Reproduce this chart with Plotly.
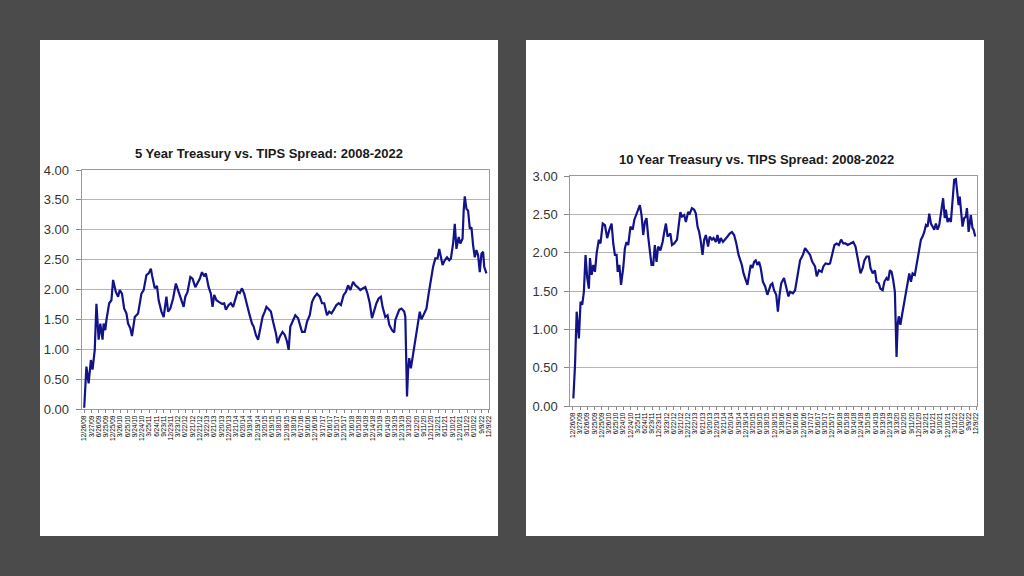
import plotly.graph_objects as go

# Datos: semana desde 12/26/08 y spread (%)
semanas_5a = [0, 4, 8, 12, 15, 19, 22, 26, 29, 33, 35, 38, 40, 45, 49, 52, 57, 61, 64, 68,
              72, 76, 79, 83, 86, 91, 97, 103, 107, 112, 116, 120, 122, 127, 131, 134, 139, 143, 148, 151,
              155, 160, 165, 170, 174, 179, 182, 186, 191, 195, 200, 204, 208, 212, 216, 219, 224, 228, 231, 234,
              238, 243, 248, 252, 255, 260, 264, 268, 272, 276, 280, 284, 288, 292, 297, 302, 305, 309, 313, 317,
              321, 325, 328, 333, 336, 340, 345, 348, 352, 357, 361, 365, 368, 371, 376, 380, 385, 388, 392, 397,
              401, 406, 410, 414, 419, 424, 428, 432, 437, 441, 445, 449, 454, 458, 462, 467, 471, 475, 479, 484,
              488, 492, 497, 502, 506, 510, 514, 518, 521, 526, 530, 534, 537, 542, 546, 549, 554, 558, 560, 564,
              567, 571, 576, 578, 581, 583, 585, 588, 592, 597, 601, 604, 607, 611, 616, 620, 624, 628, 632, 636,
              639, 642, 645, 649, 653, 657, 660, 664, 667, 670, 674, 677, 681, 683, 685, 688, 691, 694, 697, 700,
              703, 706, 709, 712, 715, 718, 720, 724]
spread_5a = [0.02, 0.71, 0.43, 0.82, 0.66, 0.99, 1.76, 1.16, 1.43, 1.16, 1.43, 1.32, 1.49, 1.77, 1.82, 2.16, 1.96, 1.88, 1.99, 1.93,
             1.68, 1.60, 1.43, 1.35, 1.22, 1.54, 1.60, 1.93, 1.99, 2.24, 2.27, 2.35, 2.24, 2.02, 2.06, 1.82, 1.63, 1.54, 1.88, 1.63,
             1.68, 1.85, 2.10, 1.96, 1.82, 1.71, 1.88, 1.96, 2.21, 2.18, 2.04, 2.10, 2.18, 2.29, 2.22, 2.27, 2.04, 1.93, 1.71, 1.91,
             1.82, 1.79, 1.76, 1.77, 1.66, 1.74, 1.77, 1.71, 1.82, 1.96, 1.94, 2.02, 1.93, 1.77, 1.60, 1.43, 1.38, 1.24, 1.16, 1.35,
             1.54, 1.63, 1.71, 1.66, 1.63, 1.46, 1.27, 1.10, 1.21, 1.29, 1.24, 1.13, 0.99, 1.38, 1.49, 1.57, 1.52, 1.43, 1.29, 1.29,
             1.46, 1.57, 1.79, 1.87, 1.93, 1.88, 1.77, 1.77, 1.57, 1.63, 1.60, 1.66, 1.74, 1.77, 1.74, 1.91, 1.96, 2.07, 1.99, 2.13,
             2.07, 2.04, 1.99, 2.02, 2.04, 1.93, 1.77, 1.52, 1.63, 1.77, 1.85, 1.88, 1.71, 1.54, 1.57, 1.41, 1.32, 1.28, 1.49, 1.57,
             1.66, 1.68, 1.63, 1.54, 0.21, 0.66, 0.85, 0.68, 0.93, 1.27, 1.49, 1.63, 1.50, 1.57, 1.68, 1.93, 2.16, 2.38, 2.52, 2.52,
             2.68, 2.54, 2.41, 2.49, 2.54, 2.49, 2.52, 2.77, 3.10, 2.68, 2.88, 2.77, 2.85, 3.32, 3.56, 3.35, 3.32, 3.02, 3.04, 2.74,
             2.54, 2.66, 2.57, 2.29, 2.60, 2.63, 2.38, 2.27]

semanas_10a = [1, 4, 7, 10, 11, 14, 17, 20, 23, 26, 29, 31, 34, 37, 40, 43, 47, 50, 54, 58,
               62, 66, 70, 73, 76, 79, 81, 84, 87, 91, 94, 97, 100, 104, 108, 111, 114, 118, 121, 124,
               127, 130, 133, 136, 139, 142, 145, 148, 151, 154, 158, 162, 165, 168, 171, 176, 179, 183, 188, 191,
               194, 197, 201, 204, 208, 211, 215, 219, 222, 225, 228, 231, 234, 237, 240, 244, 247, 251, 254, 258,
               261, 264, 267, 271, 275, 279, 283, 287, 291, 295, 299, 302, 305, 308, 312, 315, 318, 321, 324, 327,
               330, 333, 336, 339, 343, 347, 351, 354, 357, 360, 363, 367, 370, 373, 376, 381, 385, 389, 392, 397,
               401, 406, 410, 415, 419, 424, 428, 432, 437, 440, 444, 449, 452, 456, 461, 464, 468, 472, 476, 480,
               484, 488, 492, 496, 501, 506, 510, 514, 519, 523, 526, 530, 534, 537, 541, 545, 548, 552, 555, 559,
               562, 566, 569, 572, 575, 578, 581, 584, 586, 588, 591, 594, 598, 601, 605, 607, 610, 613, 617, 621,
               624, 628, 631, 634, 637, 640, 643, 646, 649, 652, 655, 658, 661, 665, 668, 671, 673, 676, 679, 682,
               685, 688, 691, 693, 696, 698, 701, 703, 706, 709, 711, 714, 716, 718, 721, 723, 726]
spread_10a = [0.10, 0.53, 1.23, 1.01, 0.88, 1.36, 1.32, 1.49, 1.97, 1.67, 1.53, 1.93, 1.71, 1.84, 1.75, 1.99, 2.17, 2.12, 2.38, 2.36,
              2.19, 2.30, 2.38, 2.12, 1.97, 1.97, 1.75, 1.84, 1.58, 1.80, 2.06, 2.14, 2.10, 2.34, 2.30, 2.43, 2.49, 2.58, 2.62, 2.49,
              2.23, 2.40, 2.45, 2.21, 2.03, 1.84, 1.84, 2.10, 1.88, 2.08, 2.03, 2.14, 2.27, 2.38, 2.21, 2.25, 2.10, 2.12, 2.17, 2.32,
              2.53, 2.47, 2.49, 2.40, 2.53, 2.51, 2.58, 2.56, 2.51, 2.34, 2.27, 2.14, 1.97, 2.17, 2.23, 2.08, 2.21, 2.17, 2.19, 2.14,
              2.23, 2.12, 2.19, 2.14, 2.17, 2.21, 2.25, 2.27, 2.23, 2.12, 1.97, 1.90, 1.84, 1.73, 1.64, 1.58, 1.71, 1.84, 1.80, 1.88,
              1.90, 1.84, 1.88, 1.80, 1.62, 1.56, 1.45, 1.53, 1.58, 1.60, 1.51, 1.45, 1.23, 1.45, 1.60, 1.67, 1.53, 1.43, 1.49, 1.47,
              1.51, 1.71, 1.90, 1.97, 2.06, 2.01, 1.97, 1.88, 1.82, 1.69, 1.77, 1.75, 1.82, 1.86, 1.85, 1.86, 1.97, 2.10, 2.12, 2.10,
              2.17, 2.12, 2.12, 2.10, 2.12, 2.14, 2.08, 1.93, 1.73, 1.80, 1.90, 1.95, 1.95, 1.80, 1.73, 1.77, 1.62, 1.60, 1.53, 1.51,
              1.62, 1.67, 1.64, 1.77, 1.75, 1.64, 1.49, 0.64, 1.06, 1.17, 1.06, 1.19, 1.36, 1.49, 1.67, 1.73, 1.62, 1.73, 1.71, 1.88,
              2.03, 2.17, 2.21, 2.27, 2.36, 2.34, 2.51, 2.38, 2.34, 2.30, 2.38, 2.30, 2.36, 2.58, 2.71, 2.45, 2.56, 2.40, 2.45, 2.40,
              2.75, 2.95, 2.96, 2.80, 2.62, 2.73, 2.53, 2.34, 2.45, 2.47, 2.58, 2.27, 2.38, 2.49, 2.32, 2.30, 2.21]

etiquetas_fecha = [
    "12/26/08", "3/27/09", "6/26/09", "9/25/09", "12/25/09", "3/26/10", "6/25/10", "9/24/10",
    "12/24/10", "3/25/11", "6/24/11", "9/23/11", "12/23/11", "3/23/12", "6/22/12", "9/21/12",
    "12/21/12", "3/22/13", "6/21/13", "9/20/13", "12/20/13", "3/21/14", "6/20/14", "9/19/14",
    "12/19/14", "3/20/15", "6/19/15", "9/18/15", "12/18/15", "3/18/16", "6/17/16", "9/16/16",
    "12/16/16", "3/17/17", "6/16/17", "9/15/17", "12/15/17", "3/16/18", "6/15/18", "9/14/18",
    "12/14/18", "3/15/19", "6/14/19", "9/13/19", "12/13/19", "3/13/20", "6/12/20", "9/11/20",
    "12/11/20", "3/12/21", "6/11/21", "9/10/21", "12/10/21", "3/11/22", "6/10/22", "9/9/22",
    "12/9/22",
]
ticks_y_5a = [0, 0.5, 1, 1.5, 2, 2.5, 3, 3.5, 4]
ticks_y_10a = [0, 0.5, 1, 1.5, 2, 2.5, 3]

titulo_5a = "5 Year Treasury vs. TIPS Spread: 2008-2022"
titulo_10a = "10 Year Treasury vs. TIPS Spread: 2008-2022"

W, H = 1024, 576
FUENTE = "Liberation Sans, Arial, sans-serif"
AZUL = "#12128a"
FONDO = "#4b4b4b"


def px_x(x):
    return x / W


def px_y(y):
    return 1 - y / H


fig = go.Figure()
fig.add_trace(go.Scatter(x=semanas_5a, y=spread_5a, mode="lines", xaxis="x", yaxis="y",
                         line=dict(color=AZUL, width=2.2), showlegend=False))
fig.add_trace(go.Scatter(x=semanas_10a, y=spread_10a, mode="lines", xaxis="x2", yaxis="y2",
                         line=dict(color=AZUL, width=2.2), showlegend=False))

tickvals_x = [13 * i for i in range(len(etiquetas_fecha))]
eje_x = dict(
    range=[-4.5, 728.6], tickmode="array", tickvals=tickvals_x, ticktext=etiquetas_fecha,
    tickangle=-90, tickfont=dict(family=FUENTE, size=6.5, color="#000000"),
    ticks="outside", ticklen=3, tickcolor="#888888", showgrid=False, zeroline=False,
    showline=True, linecolor="#9a9a9a", linewidth=1, mirror=True, fixedrange=True,
    automargin=False,
)
eje_y = dict(
    tickformat=".2f", tickfont=dict(family=FUENTE, size=13, color="#333333"),
    ticks="outside", ticklen=5, tickcolor="#888888", ticklabelstandoff=4,
    showgrid=True, gridcolor="#b4b4b4", gridwidth=1.2, zeroline=False,
    showline=True, linecolor="#9a9a9a", linewidth=1, mirror=True, fixedrange=True,
    automargin=False,
)

fig.update_layout(
    width=W, height=H, autosize=False,
    paper_bgcolor=FONDO, plot_bgcolor="white",
    margin=dict(l=0, r=0, t=0, b=0, pad=0, autoexpand=False),
    xaxis=dict(eje_x, domain=[px_x(81.7), px_x(489)], anchor="y"),
    yaxis=dict(eje_y, domain=[px_y(409), px_y(170)], range=[0, 4], tickvals=ticks_y_5a, anchor="x"),
    xaxis2=dict(eje_x, domain=[px_x(570.3), px_x(976.7)], anchor="y2"),
    yaxis2=dict(eje_y, domain=[px_y(406), px_y(176)], range=[0, 3], tickvals=ticks_y_10a, anchor="x2"),
    shapes=[
        dict(type="rect", xref="paper", yref="paper", layer="below", line=dict(width=0),
             fillcolor="white", x0=px_x(40), x1=px_x(498), y0=px_y(536), y1=px_y(40)),
        dict(type="rect", xref="paper", yref="paper", layer="below", line=dict(width=0),
             fillcolor="white", x0=px_x(526), x1=px_x(984), y0=px_y(536), y1=px_y(40)),
    ],
    annotations=[
        dict(text="<b>" + titulo_5a + "</b>", xref="paper", yref="paper", x=px_x(268.5), y=px_y(153),
             xanchor="center", yanchor="middle", showarrow=False,
             font=dict(family=FUENTE, size=13, color="#1a1a1a")),
        dict(text="<b>" + titulo_10a + "</b>", xref="paper", yref="paper", x=px_x(756.5), y=px_y(159),
             xanchor="center", yanchor="middle", showarrow=False,
             font=dict(family=FUENTE, size=13, color="#1a1a1a")),
    ],
)

# quitar el margen del body para que la figura quede en 0,0 de la ventana
sin_margen = ("document.body.style.margin='0';document.body.style.overflow='hidden';"
              "document.body.style.background='%s';" % FONDO)
fig.write_html("out.html", config={"displayModeBar": False}, post_script=sin_margen)
